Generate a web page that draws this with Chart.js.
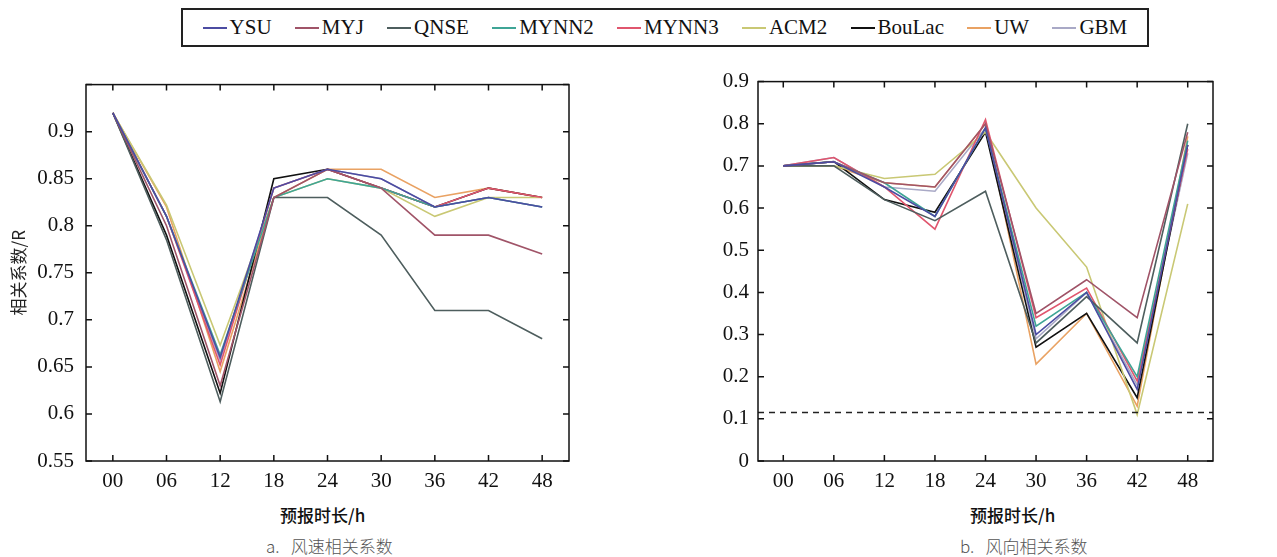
<!DOCTYPE html>
<html>
<head>
<meta charset="utf-8">
<script src="https://cdn.jsdelivr.net/npm/chart.js@4"></script>
<style>
  body { margin: 0; background: #fff; width: 1277px; height: 557px; position: relative; overflow: hidden; }
  .box { position: absolute; }
  #legend {
    position: absolute; left: 181px; top: 8px; width: 948px; height: 35px;
    border: 2px solid #222; display: flex; align-items: center; justify-content: space-around;
    font-family: "Liberation Serif", serif; font-size: 21px; color: #111; padding: 0 8px;
  }
  #legend span.item { display: flex; align-items: center; }
  #legend i { display: inline-block; width: 24px; height: 2px; margin-right: 3px; }
  .xtitle { position: absolute; font-family: "Noto Sans CJK SC", sans-serif; font-size: 17px; font-weight: 500; color: #111; }
  .caption { position: absolute; font-family: "Noto Sans CJK SC", sans-serif; font-size: 17px; color: #555; font-weight: 300; }
</style>
</head>
<body>
<div id="legend"></div>
<div class="box" style="left:0;top:60px;width:600px;height:440px"><canvas id="speedChart"></canvas></div>
<div class="box" style="left:660px;top:60px;width:600px;height:440px"><canvas id="dirChart"></canvas></div>
<div class="xtitle" style="left:280px;top:502px">预报时长/h</div>
<div class="xtitle" style="left:970px;top:502px">预报时长/h</div>
<div class="caption" style="left:266px;top:533px">a.&nbsp;&nbsp;&nbsp;风速相关系数</div>
<div class="caption" style="left:960px;top:533px">b.&nbsp;&nbsp;&nbsp;风向相关系数</div>
<script>
const hours = ["00", "06", "12", "18", "24", "30", "36", "42", "48"];
const schemes = ["YSU", "MYJ", "QNSE", "MYNN2", "MYNN3", "ACM2", "BouLac", "UW", "GBM"];
const colors = ["#4c4ca2", "#a05468", "#4e5e5e", "#3fa596", "#e0566e", "#c9c874", "#111111", "#e9a263", "#a9a9c6"];

// a. wind speed correlation
const speedYSU    = [0.92, 0.81, 0.66, 0.84, 0.86, 0.85, 0.82, 0.83, 0.82];
const speedMYJ    = [0.92, 0.80, 0.63, 0.83, 0.86, 0.84, 0.79, 0.79, 0.77];
const speedQNSE   = [0.92, 0.785, 0.613, 0.83, 0.83, 0.79, 0.71, 0.71, 0.68];
const speedMYNN2  = [0.92, 0.81, 0.663, 0.83, 0.85, 0.84, 0.82, 0.83, 0.82];
const speedMYNN3  = [0.92, 0.81, 0.652, 0.84, 0.86, 0.84, 0.82, 0.84, 0.83];
const speedACM2   = [0.92, 0.822, 0.673, 0.83, 0.85, 0.84, 0.81, 0.83, 0.83];
const speedBouLac = [0.92, 0.79, 0.622, 0.85, 0.86, 0.84, 0.82, 0.84, 0.83];
const speedUW     = [0.92, 0.82, 0.645, 0.83, 0.86, 0.86, 0.83, 0.84, 0.83];
const speedGBM    = [0.92, 0.81, 0.657, 0.84, 0.86, 0.85, 0.82, 0.83, 0.82];

// b. wind direction correlation
const dirYSU    = [0.70, 0.71, 0.65, 0.58, 0.79, 0.30, 0.40, 0.17, 0.75];
const dirMYJ    = [0.70, 0.71, 0.66, 0.65, 0.80, 0.35, 0.43, 0.34, 0.78];
const dirQNSE   = [0.70, 0.70, 0.62, 0.57, 0.64, 0.28, 0.39, 0.28, 0.80];
const dirMYNN2  = [0.70, 0.71, 0.66, 0.58, 0.79, 0.32, 0.40, 0.20, 0.76];
const dirMYNN3  = [0.70, 0.72, 0.65, 0.55, 0.81, 0.34, 0.41, 0.19, 0.74];
const dirACM2   = [0.70, 0.70, 0.67, 0.68, 0.78, 0.60, 0.46, 0.11, 0.61];
const dirBouLac = [0.70, 0.71, 0.62, 0.59, 0.78, 0.27, 0.35, 0.15, 0.75];
const dirUW     = [0.70, 0.70, 0.66, 0.65, 0.80, 0.23, 0.35, 0.13, 0.77];
const dirGBM    = [0.70, 0.72, 0.65, 0.64, 0.79, 0.29, 0.40, 0.18, 0.73];

const speedSeries = [speedYSU, speedMYJ, speedQNSE, speedMYNN2, speedMYNN3, speedACM2, speedBouLac, speedUW, speedGBM];
const dirSeries = [dirYSU, dirMYJ, dirQNSE, dirMYNN2, dirMYNN3, dirACM2, dirBouLac, dirUW, dirGBM];
const dirThreshold = 0.115;

// shared legend
const legend = document.getElementById("legend");
schemes.forEach((name, i) => {
  const item = document.createElement("span");
  item.className = "item";
  item.innerHTML = `<i style="background:${colors[i]}"></i>${name}`;
  legend.appendChild(item);
});

// frame + inward ticks on all four sides
const framePlugin = {
  id: "frame",
  afterDraw(chart) {
    const { ctx, chartArea: a, scales } = chart;
    ctx.save();
    ctx.strokeStyle = "#111";
    ctx.lineWidth = 1.5;
    ctx.strokeRect(a.left, a.top, a.right - a.left, a.bottom - a.top);
    const len = 6;
    ctx.beginPath();
    scales.x.ticks.forEach((t, i) => {
      const x = scales.x.getPixelForTick(i);
      ctx.moveTo(x, a.bottom); ctx.lineTo(x, a.bottom - len);
      ctx.moveTo(x, a.top); ctx.lineTo(x, a.top + len);
    });
    scales.y.ticks.forEach((t, i) => {
      const y = scales.y.getPixelForTick(i);
      ctx.moveTo(a.left, y); ctx.lineTo(a.left + len, y);
      ctx.moveTo(a.right, y); ctx.lineTo(a.right - len, y);
    });
    ctx.stroke();
    ctx.restore();
  },
};

const thresholdPlugin = {
  id: "threshold",
  afterDatasetsDraw(chart, args, opts) {
    if (opts.value == null) return;
    const { ctx, chartArea: a, scales } = chart;
    const y = scales.y.getPixelForValue(opts.value);
    ctx.save();
    ctx.strokeStyle = "#222";
    ctx.lineWidth = 1.5;
    ctx.setLineDash([6, 5]);
    ctx.beginPath();
    ctx.moveTo(a.left, y);
    ctx.lineTo(a.right, y);
    ctx.stroke();
    ctx.restore();
  },
};

const tickFont = { family: "'Liberation Serif', 'Times New Roman', serif", size: 21 };

function makeChart(id, series, yOpts, axisWidth, padding, yTitle, threshold) {
  return new Chart(document.getElementById(id), {
    type: "line",
    data: {
      labels: hours,
      datasets: series.map((data, i) => ({
        label: schemes[i],
        data: data,
        borderColor: colors[i],
        borderWidth: 1.6,
        pointRadius: 0,
        tension: 0,
        fill: false,
      })),
    },
    options: {
      responsive: true,
      maintainAspectRatio: false,
      animation: false,
      layout: { padding: padding },
      plugins: {
        legend: { display: false },
        tooltip: { enabled: false },
        threshold: { value: threshold },
      },
      scales: {
        x: {
          offset: true,
          grid: { display: false, drawTicks: false },
          border: { display: false },
          ticks: { color: "#111", font: tickFont, padding: 8, maxRotation: 0 },
          afterFit: (s) => { s.height = 39; },
        },
        y: {
          min: yOpts.min,
          max: yOpts.max,
          grid: { display: false, drawTicks: false },
          border: { display: false },
          ticks: {
            stepSize: yOpts.step,
            color: "#111",
            font: tickFont,
            padding: yOpts.pad,
            callback: (v) => (v > yOpts.maxLabel + 1e-9 ? "" : String(Number(v.toFixed(2)))),
          },
          title: yTitle
            ? { display: true, text: yTitle, color: "#222", font: { family: "'Noto Sans CJK SC', sans-serif", size: 17 }, padding: { top: 8, bottom: 0 } }
            : { display: false },
          afterFit: (s) => { s.width = axisWidth; },
        },
      },
    },
    plugins: [framePlugin, thresholdPlugin],
  });
}

makeChart("speedChart", speedSeries, { min: 0.55, max: 0.95, step: 0.05, maxLabel: 0.9, pad: 12 },
  86, { top: 7, right: 31, left: 0 }, "相关系数/R", null);
makeChart("dirChart", dirSeries, { min: 0, max: 0.9, step: 0.1, maxLabel: 0.9, pad: 9 },
  98, { top: 8, right: 47, left: 0 }, null, dirThreshold);
</script>
</body>
</html>
